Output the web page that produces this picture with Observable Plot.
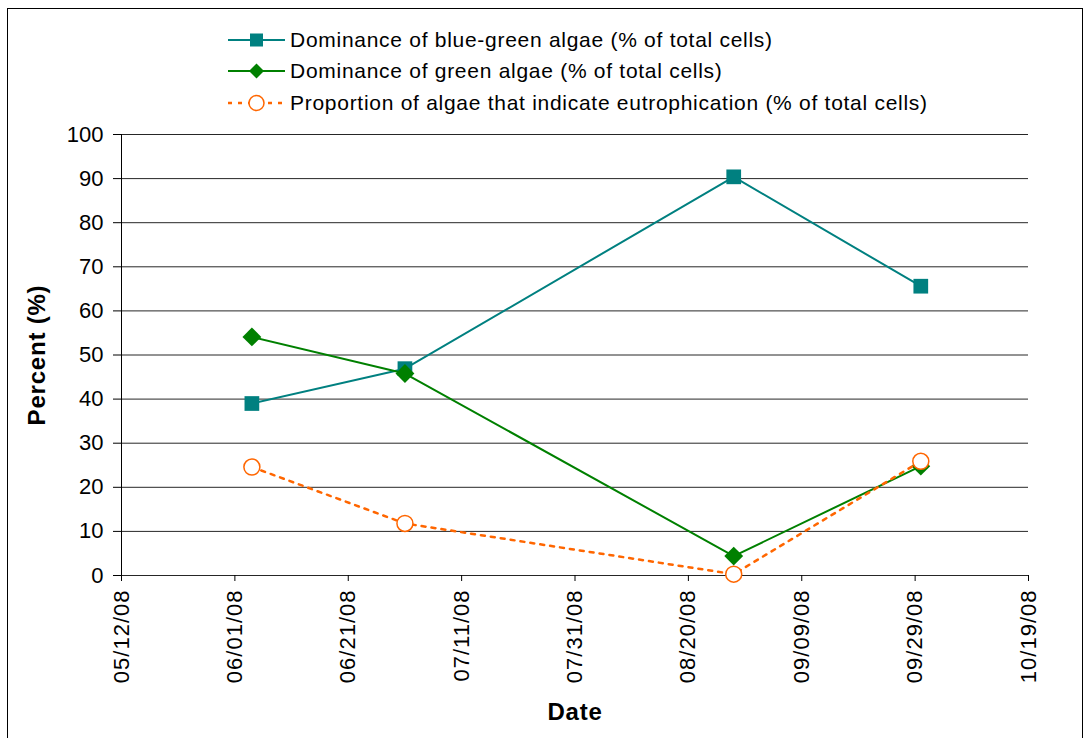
<!DOCTYPE html>
<html>
<head>
<meta charset="utf-8">
<script src="https://cdn.jsdelivr.net/npm/d3@7"></script>
<script src="https://cdn.jsdelivr.net/npm/@observablehq/plot@0.6"></script>
<style>
  body { margin: 0; background: #fff; font-family: "Liberation Sans", Arial, sans-serif; }
  #chart { position: absolute; left: 0; top: 0; }
  #frame { position: absolute; left: 7px; top: 8px; width: 1076px; height: 745px;
           border: 1.5px solid #000; box-sizing: border-box; pointer-events: none; }
  #legend { position: absolute; left: 228px; top: 24px; font-size: 21px; letter-spacing: 0.72px; color: #000; }
  .row { display: flex; align-items: center; height: 31.5px; white-space: nowrap; }
  .row svg { margin-right: 4px; flex: none; }
  g[aria-label="x-axis tick label"] text { letter-spacing: 1px; }
  .axis-title { letter-spacing: 0.8px; }
</style>
</head>
<body>
<div id="chart"></div>
<div id="frame"></div>
<div id="legend"></div>
<script>
// Sampling dates and percentages for each algae measure
const sampleDates = ["06/04/08", "07/01/08", "08/28/08", "09/30/08"];
const blueGreen   = [39.0, 46.9, 90.4, 65.6];
const greenAlgae  = [54.1, 45.8, 4.4, 24.8];
const eutrophic   = [24.6, 11.8, 0.3, 25.9];

// Axis ticks
const dateTicks = ["05/12/08", "06/01/08", "06/21/08", "07/11/08", "07/31/08",
                   "08/20/08", "09/09/08", "09/29/08", "10/19/08"];
const percentTicks = [0, 10, 20, 30, 40, 50, 60, 70, 80, 90, 100];

const seriesNames = [
  "Dominance of blue-green algae (% of total cells)",
  "Dominance of green algae (% of total cells)",
  "Proportion of algae that indicate eutrophication (% of total cells)"
];

const TEAL = "#008080", GREEN = "#008000", ORANGE = "#FF6600";

const parse = d3.utcParse("%m/%d/%y");
const fmt = d3.utcFormat("%m/%d/%y");
const tickDates = dateTicks.map(parse);

const rows = sampleDates.map((d, i) => ({
  date: parse(d),
  blueGreen: blueGreen[i],
  green: greenAlgae[i],
  eutrophic: eutrophic[i]
}));

const chart = Plot.plot({
  width: 1090,
  height: 738,
  marginLeft: 121,
  marginRight: 62,
  marginTop: 134,
  marginBottom: 163,
  style: { fontFamily: "'Liberation Sans', Arial, sans-serif", fontSize: "22px", color: "#000", background: "transparent" },
  x: { type: "utc", domain: [tickDates[0], tickDates[tickDates.length - 1]] },
  y: { domain: [0, 100] },
  marks: [
    Plot.ruleY(percentTicks, { stroke: "#000", strokeWidth: 1, strokeOpacity: 0.85 }),
    Plot.ruleX([tickDates[0]], { stroke: "#000", strokeWidth: 1 }),
    Plot.axisY({ ticks: percentTicks, tickSize: 8, tickPadding: 10, label: null, fontSize: 22 }),
    Plot.axisX({ ticks: tickDates, tickFormat: fmt, tickRotate: -90, tickSize: 6, tickPadding: 8, label: null, fontSize: 22 }),

    Plot.line(rows, { x: "date", y: "blueGreen", stroke: TEAL, strokeWidth: 2 }),
    Plot.dot(rows, { x: "date", y: "blueGreen", symbol: "square", r: 8.3, fill: TEAL }),

    Plot.line(rows, { x: "date", y: "green", stroke: GREEN, strokeWidth: 2 }),
    Plot.dot(rows, { x: "date", y: "green", symbol: "diamond2", r: 8.5, fill: GREEN }),

    Plot.line(rows, { x: "date", y: "eutrophic", stroke: ORANGE, strokeWidth: 2.5, strokeDasharray: "4,6" }),
    Plot.dot(rows, { x: "date", y: "eutrophic", symbol: "circle", r: 8, fill: "#fff", stroke: ORANGE, strokeWidth: 1.5 }),

    Plot.text(["Percent (%)"], { frameAnchor: "left", dx: -84, rotate: -90, textAnchor: "middle", lineAnchor: "middle", fontWeight: "bold", fontSize: 24, className: "axis-title" }),
    Plot.text(["Date"], { frameAnchor: "bottom", dy: 137, textAnchor: "middle", lineAnchor: "middle", fontWeight: "bold", fontSize: 24, className: "axis-title" })
  ]
});
document.getElementById("chart").append(chart);

// Legend rows with line + marker swatches
const swatches = [
  `<line x1="0" y1="10" x2="57" y2="10" stroke="${TEAL}" stroke-width="2"/><rect x="22" y="3.5" width="13" height="13" fill="${TEAL}"/>`,
  `<line x1="0" y1="10" x2="57" y2="10" stroke="${GREEN}" stroke-width="2"/><path d="M28.5,2.5L36,10L28.5,17.5L21,10Z" fill="${GREEN}"/>`,
  `<line x1="0" y1="10" x2="57" y2="10" stroke="${ORANGE}" stroke-width="2.5" stroke-dasharray="4,6"/><circle cx="28.5" cy="10" r="7.5" fill="#fff" stroke="${ORANGE}" stroke-width="1.5"/>`
];
const legend = document.getElementById("legend");
seriesNames.forEach((name, i) => {
  const row = document.createElement("div");
  row.className = "row";
  row.innerHTML = `<svg width="58" height="20">${swatches[i]}</svg><span>${name}</span>`;
  legend.append(row);
});
</script>
</body>
</html>
